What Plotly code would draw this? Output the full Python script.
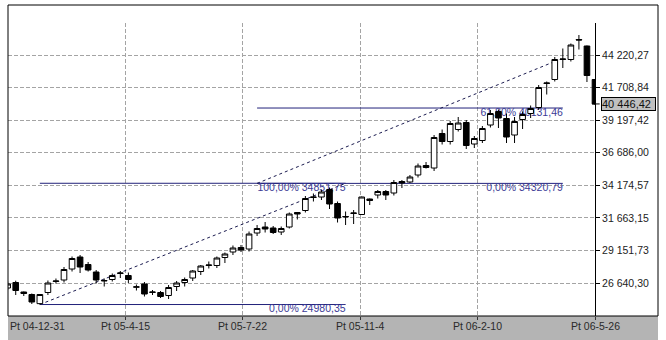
import plotly.graph_objects as go

# ---------------- data ----------------
x_tick_labels = ["Pt 04-12-31", "Pt 05-4-15", "Pt 05-7-22", "Pt 05-11-4", "Pt 06-2-10", "Pt 06-5-26"]

y_tick_values = [26640.30, 29151.73, 31663.15, 34174.57, 36686.00, 39197.42, 41708.84, 44220.27]
y_tick_labels = ["26 640,30", "29 151,73", "31 663,15", "34 174,57",
                 "36 686,00", "39 197,42", "41 708,84", "44 220,27"]

opens = [26255, 26679, 25946, 25754, 25050, 25908, 26756, 26872, 27720, 28645,
         28067, 27488, 26795, 26910, 27373, 27219, 26310, 26563, 25908, 25908,
         25677, 26370, 26679, 27026, 27527, 27990, 27990, 28607, 29031, 29378,
         29262, 30496, 30958, 30881, 30573, 30958, 32076, 32230, 33233, 33271,
         33850, 32770, 31729, 31999, 31922, 33117, 33426, 33695, 33580, 34467,
         34428, 34968, 35700, 35507, 38167, 37551, 38476, 39016, 37358, 37628,
         38823, 39864, 39324, 38052, 39247, 39710, 40172, 42023, 42331, 43873,
         43873, 45415, 44914, 42331]
highs = [26756, 26818, 25985, 25831, 25792, 26833, 26987, 27874, 28684, 28799,
         28260, 27643, 26987, 27373, 27566, 27450, 26525, 26717, 26101, 26023,
         26486, 26795, 27064, 27643, 28028, 28298, 28684, 28992, 29532, 29570,
         30611, 31112, 31344, 31035, 30997, 32076, 32115, 33348, 33541, 33850,
         34004, 32924, 32153, 32269, 33310, 33156, 33811, 33811, 34582, 34582,
         34968, 35854, 35970, 38052, 38476, 39131, 39440, 39208, 37975, 38746,
         39979, 40018, 39710, 39440, 39864, 40327, 41907, 42177, 44066, 44721,
         45107, 45762, 44953, 42370]
lows = [26101, 25715, 25638, 25021, 24980.35, 25715, 26602, 26679, 27527, 27411,
        27527, 26602, 26370, 26756, 27026, 26640, 26062, 25599, 25715, 25484,
        25407, 26023, 26370, 26795, 27257, 27758, 27797, 28182, 28799, 29031,
        29069, 30264, 30534, 30418, 30341, 30843, 31536, 32076, 32924, 33040,
        32346, 31305, 31112, 31190, 31883, 32655, 33156, 33040, 33387, 33965,
        34351, 34775, 35469, 35276, 37319, 37319, 38322, 36972, 37049, 37435,
        38630, 38592, 37435, 37435, 38515, 39363, 39979, 41175, 42177, 43218,
        43719, 44644, 42138, 40365]
closes = [26563, 26062, 25831, 25175, 25754, 26640, 26795, 27681, 28529, 27874,
          27643, 26872, 26833, 27219, 27411, 26910, 26348, 25792, 25946, 25599,
          26293, 26640, 26910, 27566, 27951, 28028, 28568, 28876, 29339, 29185,
          30418, 30843, 30804, 30534, 30843, 31961, 31961, 33156, 33271, 33657,
          32732, 31652, 31768, 32038, 33271, 33001, 33695, 33426, 34389, 34351,
          34814, 35662, 35546, 37859, 37551, 38939, 38977, 37242, 37782, 38553,
          39710, 39363, 37898, 39093, 39633, 40095, 41714, 42061, 43873, 43912,
          44991, 45377, 42640, 40446.42]

# Fibonacci tools (bar index span, levels, labels)
fib1_span = [4, 42]
fib1_levels = [24980.35, 34330.0]
fib1_labels = ["0,00% 24980,35", "100,00% 34851,75"]
fib2_span = [31, 69]
fib2_levels = [34320.79, 40131.46]
fib2_labels = ["0,00% 34320,79", "61,80% 40131,46"]
trend1_x = [4, 42]
trend1_y = [24980.35, 34330.0]
trend2_x = [31, 68]
trend2_y = [34320.79, 43723.2]
last_price_label = "40 446,42"

# ---------------- styling ----------------
FONT = "Liberation Sans, Arial, sans-serif"
GRID = "#a4a4a4"
FIB = "#22227a"
FIBTXT = "#3b3b96"
TREND = "#1c1c50"

n = len(opens)
bars = list(range(n))
XR = [0.04, n - 1]
YR = [24096, 46688]
x_tick_pos = [i * (n - 1) / (len(x_tick_labels) - 1) for i in range(len(x_tick_labels))]

fig = go.Figure()

# fib lines + trendlines + labels on main axes (drawn beneath the candles)
for span, levels in ((fib1_span, fib1_levels), (fib2_span, fib2_levels)):
    for lv in levels:
        fig.add_trace(go.Scatter(x=span, y=[lv, lv], mode="lines",
                                 line=dict(color=FIB, width=1), hoverinfo="skip"))
for tx, ty in ((trend1_x, trend1_y), (trend2_x, trend2_y)):
    fig.add_trace(go.Scatter(x=tx, y=ty, mode="lines",
                             line=dict(color=TREND, width=1, dash="3px,3px"), hoverinfo="skip"))
for span, levels, labels in ((fib1_span, fib1_levels, fib1_labels), (fib2_span, fib2_levels, fib2_labels)):
    fig.add_trace(go.Scatter(x=[span[1]] * len(levels), y=levels, mode="text", text=labels,
                             textposition="bottom left",
                             textfont=dict(family=FONT, size=10.5, color=FIBTXT),
                             hoverinfo="skip"))

# candles on overlay axes so they sit on top
fig.add_trace(go.Candlestick(
    x=bars, open=opens, high=highs, low=lows, close=closes,
    xaxis="x2", yaxis="y2", whiskerwidth=0, hoverinfo="skip",
    increasing=dict(line=dict(color="black", width=1), fillcolor="white"),
    decreasing=dict(line=dict(color="black", width=1), fillcolor="black"),
))

PW, PH = 666 - 8 - 71, 340 - 23 - 24
xr_edge = (658 - 8) / PW
yt_edge = (316 - 5) / PH
yb_edge = (316 - 341) / PH

shapes = [
    dict(type="rect", xref="paper", yref="paper", x0=0, x1=xr_edge, y0=yb_edge, y1=0,
         fillcolor="#b4b4b4", line=dict(width=0), layer="below"),
    dict(type="line", xref="paper", yref="paper", x0=0, x1=xr_edge, y0=yt_edge, y1=yt_edge,
         line=dict(color="black", width=1)),
    dict(type="line", xref="paper", yref="paper", x0=0, x1=0, y0=0, y1=yt_edge,
         line=dict(color="black", width=1)),
    dict(type="line", xref="paper", yref="paper", x0=xr_edge, x1=xr_edge, y0=0, y1=yt_edge,
         line=dict(color="black", width=1)),
    dict(type="line", xref="paper", yref="paper", x0=0, x1=xr_edge, y0=0, y1=0,
         line=dict(color="black", width=1)),
    dict(type="line", xref="paper", yref="y", x0=0.995, x1=1.008, y0=closes[-1], y1=closes[-1],
         line=dict(color="black", width=1)),
]

annotations = []
for i, (pos, lab) in enumerate(zip(x_tick_pos, x_tick_labels)):
    px = max(0.0, (pos - XR[0]) / (XR[1] - XR[0]))
    annotations.append(dict(x=px, xref="paper", y=-10 / PH, yref="paper", text=lab,
                            showarrow=False, xanchor="left" if i == 0 else "center",
                            yanchor="middle", font=dict(family=FONT, size=10.5, color="#2a2a2a")))
annotations.append(dict(x=1, xref="paper", y=closes[-1], yref="y", text=last_price_label,
                        showarrow=False, xanchor="left", yanchor="middle", xshift=6,
                        bgcolor="#c0c0c0", bordercolor="black", borderwidth=1, borderpad=0,
                        width=53, height=12, align="left",
                        font=dict(family=FONT, size=11, color="#111111")))

fig.update_layout(
    width=666, height=340, margin=dict(l=8, r=71, t=23, b=24),
    paper_bgcolor="white", plot_bgcolor="white", showlegend=False,
    boxgap=0.3, boxgroupgap=0,
    xaxis=dict(range=XR, tickvals=x_tick_pos, showticklabels=False, showgrid=True,
               gridcolor=GRID, griddash="4px,2px", gridwidth=1, zeroline=False, showline=False,
               ticks="outside", ticklen=3, tickcolor="#333333", fixedrange=True),
    yaxis=dict(range=YR, side="right", tickvals=y_tick_values, ticktext=y_tick_labels,
               showgrid=True, gridcolor=GRID, griddash="4px,2px", gridwidth=1, zeroline=False,
               showline=True, linecolor="black", linewidth=1, ticks="outside", ticklen=4,
               tickcolor="black", tickfont=dict(family=FONT, size=10.5, color="#222222")),
    xaxis2=dict(range=XR, overlaying="x", anchor="y2", visible=False,
                rangeslider=dict(visible=False)),
    yaxis2=dict(range=YR, overlaying="y", anchor="x2", side="right", visible=False),
    shapes=shapes, annotations=annotations,
)

fig.write_html("out.html")
